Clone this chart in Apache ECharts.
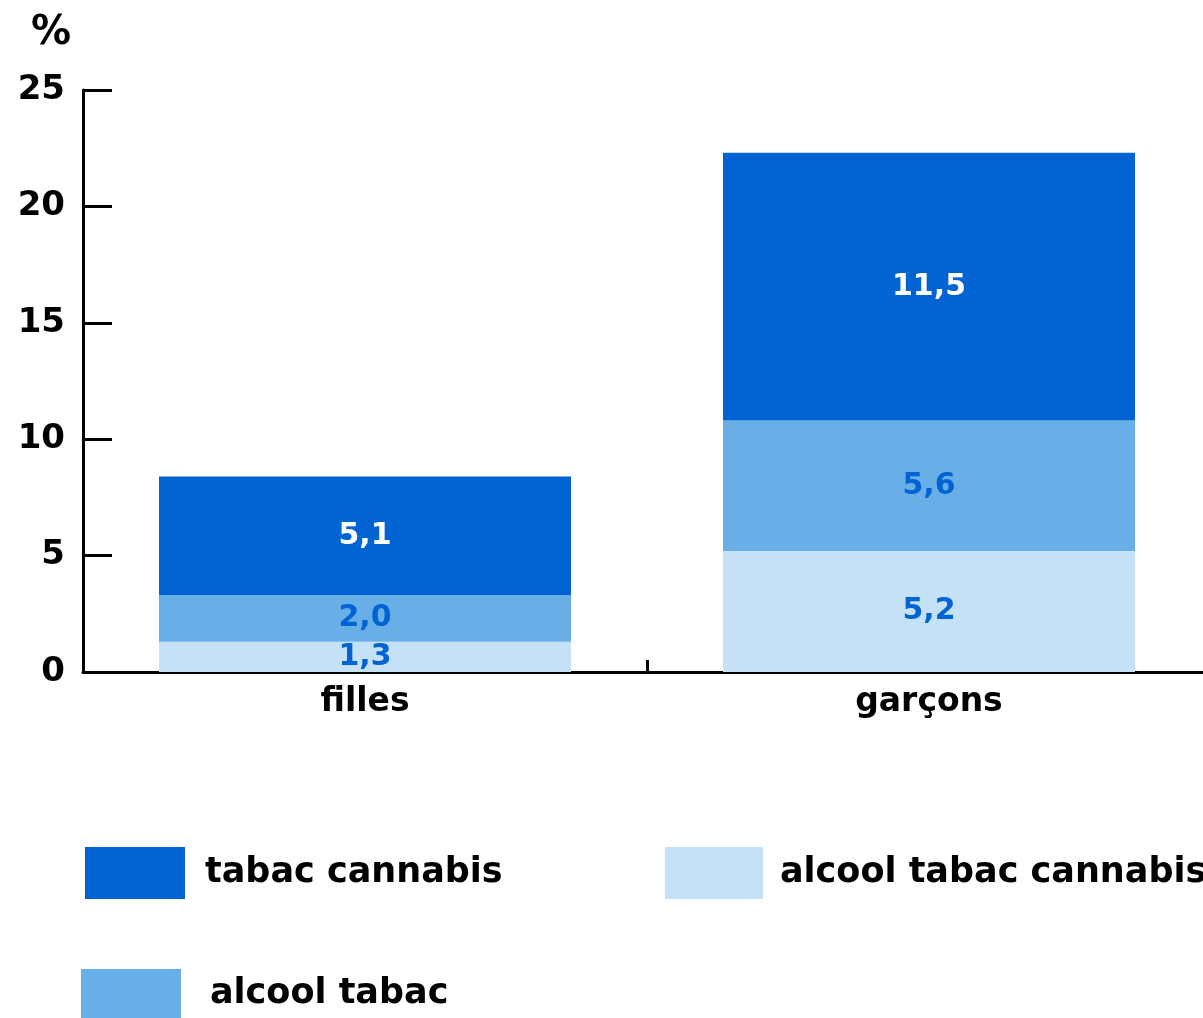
<!DOCTYPE html>
<html>
<head>
<meta charset="utf-8">
<script src="https://cdn.jsdelivr.net/npm/echarts@6/dist/echarts.min.js"></script>
<style>
  html, body { margin: 0; padding: 0; background: #fff; }
  #chart { width: 1203px; height: 1018px; }
</style>
</head>
<body>
<div id="chart"></div>
<script>
// Consommation associée de produits, en %
const categories = ['filles', 'garçons'];
const alcoolTabacCannabis = [1.3, 5.2];
const alcoolTabac = [2.0, 5.6];
const tabacCannabis = [5.1, 11.5];
const yTicks = [0, 5, 10, 15, 20, 25];

const FONT = 'DejaVu Sans';
const C_DARK = '#0264D3';
const C_MID = '#69AFE7';
const C_LIGHT = '#C5E1F5';

const fmt = v => String(v.toFixed(1)).replace('.', ',');

function barSeries(name, data, color, labelColor) {
  return {
    name: name,
    type: 'bar',
    stack: 'total',
    data: data,
    barWidth: 412,
    itemStyle: { color: color },
    label: {
      show: true,
      position: 'inside',
      formatter: p => fmt(p.value),
      color: labelColor,
      fontFamily: FONT,
      fontWeight: 'bold',
      fontSize: 30
    },
    z: 3
  };
}

const legendText = pad => ({
  color: '#000',
  fontFamily: FONT,
  fontWeight: 'bold',
  fontSize: 35,
  padding: [0, 0, 0, pad]
});

const chart = echarts.init(document.getElementById('chart'), null, { renderer: 'canvas' });
chart.setOption({
  animation: false,
  backgroundColor: '#fff',
  // the plot runs a little past the right edge of the page
  grid: {
    left: 83, top: 90, width: 1128, bottom: 346,
    containLabel: false, outerBoundsMode: 'none'
  },
  legend: [
    {
      data: ['tabac cannabis'], left: 85, top: 847, padding: 0, itemWidth: 100, itemHeight: 52,
      icon: 'rect', textStyle: legendText(15), selectedMode: false
    },
    {
      data: ['alcool tabac cannabis'], left: 665, top: 847, padding: 0, itemWidth: 98, itemHeight: 52,
      icon: 'rect', textStyle: legendText(12), selectedMode: false
    },
    {
      data: ['alcool tabac'], left: 81, top: 969, padding: 0, itemWidth: 100, itemHeight: 49,
      icon: 'rect', textStyle: legendText(24), selectedMode: false
    }
  ],
  xAxis: {
    type: 'category',
    data: categories,
    axisLine: { lineStyle: { color: '#000', width: 3 } },
    axisTick: { show: true, inside: true, length: 12, lineStyle: { color: '#000', width: 3 } },
    axisLabel: {
      color: '#000', fontFamily: FONT, fontWeight: 'bold', fontSize: 33, margin: 14
    }
  },
  yAxis: {
    type: 'value',
    min: yTicks[0],
    max: yTicks[yTicks.length - 1],
    interval: 5,
    name: '%',
    nameLocation: 'end',
    nameGap: 36,
    nameTextStyle: {
      color: '#000', fontFamily: FONT, fontWeight: 'bold', fontSize: 40,
      align: 'right', padding: [0, 12, 0, 0]
    },
    axisLine: { show: true, lineStyle: { color: '#000', width: 3 } },
    axisTick: { show: true, inside: true, length: 29, lineStyle: { color: '#000', width: 3 } },
    splitLine: { show: false },
    axisLabel: {
      color: '#000', fontFamily: FONT, fontWeight: 'bold', fontSize: 34, margin: 18
    }
  },
  series: [
    barSeries('alcool tabac cannabis', alcoolTabacCannabis, C_LIGHT, C_DARK),
    barSeries('alcool tabac', alcoolTabac, C_MID, C_DARK),
    barSeries('tabac cannabis', tabacCannabis, C_DARK, '#fff')
  ]
});
</script>
</body>
</html>
